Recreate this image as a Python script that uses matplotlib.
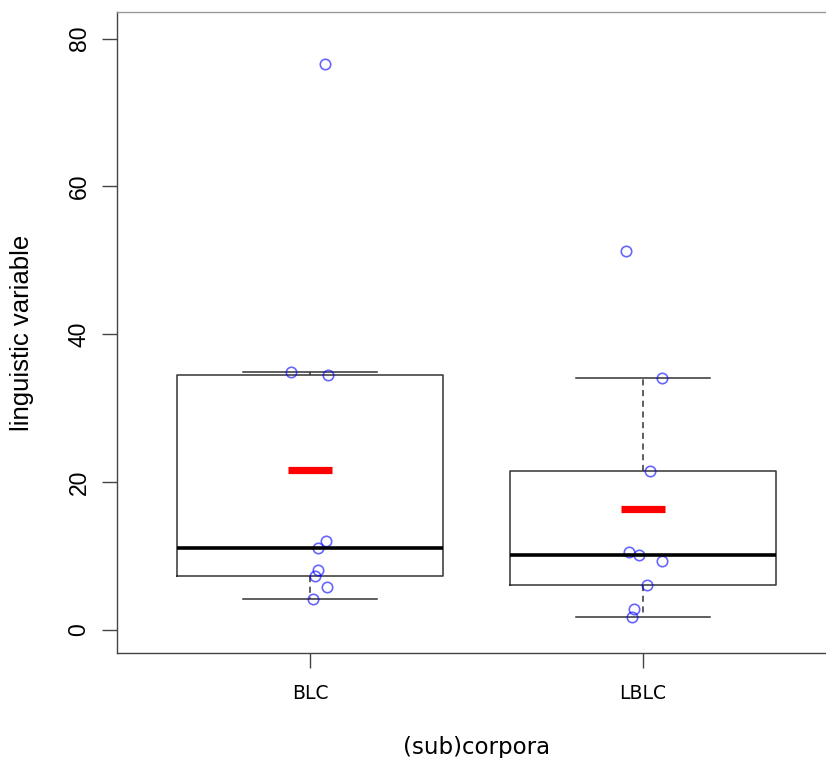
import numpy as np
import matplotlib.pyplot as plt

# data
groups = ['BLC', 'LBLC']
blc = [76.5, 34.9, 34.5, 12.0, 11.1, 8.1, 7.3, 5.8, 4.2]
lblc = [51.3, 34.1, 21.5, 10.6, 10.2, 9.3, 6.1, 2.8, 1.8]
# horizontal jitter of the points (x units)
blc_jit = [0.045, -0.057, 0.054, 0.048, 0.024, 0.024, 0.015, 0.051, 0.009]
lblc_jit = [-0.051, 0.057, 0.021, -0.042, -0.012, 0.057, 0.012, -0.027, -0.033]

data = [blc, lblc]
jitter = [blc_jit, lblc_jit]

fig = plt.figure(figsize=(8.26, 7.58), dpi=100)
ax = fig.add_axes([117/826, 1 - 653/758, (836 - 117)/826, (653 - 12)/758])

edge = '#333333'
ax.boxplot(data, positions=[1, 2], widths=0.8, capwidths=0.4, whis=1.5,
           showfliers=False, patch_artist=False,
           boxprops=dict(color=edge, linewidth=1.1),
           whiskerprops=dict(color=edge, linewidth=1.1, linestyle=(0, (4, 3))),
           capprops=dict(color=edge, linewidth=1.1),
           medianprops=dict(color='black', linewidth=2.6))

# jittered points
for i, (vals, jit) in enumerate(zip(data, jitter)):
    xs = np.array(jit) + i + 1
    ax.plot(xs, vals, 'o', mfc='none', mec=(0, 0, 1, 0.6), ms=7.5, mew=1.2,
            linestyle='none')

# means
means = [np.mean(v) for v in data]
for i, m in enumerate(means):
    ax.plot([i + 1 - 0.066, i + 1 + 0.066], [m, m], color='red', linewidth=5.2,
            solid_capstyle='butt')

ax.set_xlim(0.42, 2.58)
ax.set_ylim(-3.1, 83.6)
ax.set_xticks([1, 2])
ax.set_xticklabels(groups, fontsize=13.5, family='DejaVu Sans')
ax.set_yticks([0, 20, 40, 60, 80])
ax.set_yticklabels(['0', '20', '40', '60', '80'], rotation=90, va='center',
                   fontsize=16.5, family='Liberation Sans')
ax.tick_params(axis='both', length=11, width=1, color='#444444')
ax.tick_params(axis='y', pad=8)
ax.tick_params(axis='x', pad=11)

for s in ax.spines.values():
    s.set_color('#444444')
    s.set_linewidth(1)
ax.spines['top'].set_color('#999999')

ax.set_xlabel('(sub)corpora', fontsize=16.5, family='DejaVu Sans', labelpad=24)
ax.set_ylabel('linguistic variable', fontsize=18.5, family='Liberation Sans',
              labelpad=24)

fig.savefig('out.png', dpi=100)
